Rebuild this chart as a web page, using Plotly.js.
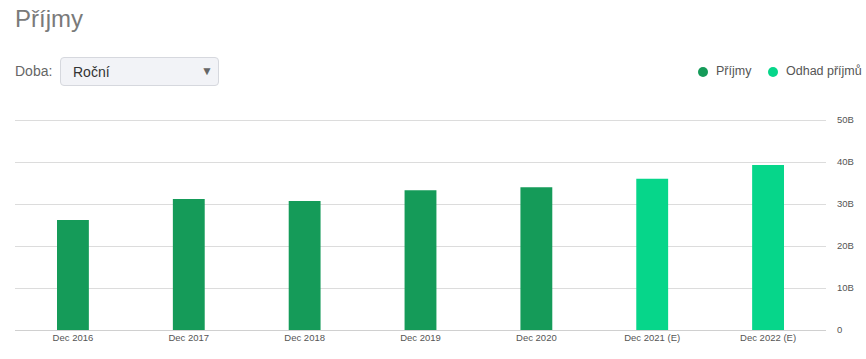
<!DOCTYPE html>
<html>
<head>
<meta charset="utf-8">
<script src="https://cdn.plot.ly/plotly-3.0.1.min.js"></script>
<style>
  html, body { margin: 0; padding: 0; background: #fff; }
  body { width: 866px; height: 359px; position: relative; overflow: hidden; font-family: "Liberation Sans", Arial, sans-serif; }
  #chart { position: absolute; left: 0; top: 0; width: 866px; height: 359px; }
  #title { position: absolute; left: 15px; top: 5px; font-size: 24px; color: #7a7a7a; }
  #doba { position: absolute; left: 15px; top: 63px; font-size: 14px; color: #666; }
  #sel { position: absolute; left: 60px; top: 57px; width: 159px; height: 29px; box-sizing: border-box;
         border: 1px solid #d6d8de; border-radius: 4px; background: #f2f3f7; }
  #sel .t { position: absolute; left: 12px; top: 6px; font-size: 14px; color: #333; }
  #sel .a { position: absolute; right: 5px; top: 6px; font-size: 12px; color: #666; }
  .lg { position: absolute; top: 64px; font-size: 12.5px; color: #555; white-space: nowrap; }
  .lg .d { position: absolute; left: 0; top: 3px; width: 10px; height: 10px; border-radius: 50%; }
  .lg .s { position: absolute; left: 18px; top: 0; }
</style>
</head>
<body>
<div id="chart"></div>
<div id="title">Příjmy</div>
<div id="doba">Doba:</div>
<div id="sel"><span class="t">Roční</span><span class="a">▼</span></div>
<div id="legend"></div>
<script>
const categories = ["Dec 2016", "Dec 2017", "Dec 2018", "Dec 2019", "Dec 2020", "Dec 2021 (E)", "Dec 2022 (E)"];
const revenue = [26.2, 31.2, 30.7, 33.3, 34.0, null, null];       // billions
const revenueEstimate = [null, null, null, null, null, 36.0, 39.3]; // billions
const yTickVals = [0, 10, 20, 30, 40, 50];
const yTickText = ["0", "10B", "20B", "30B", "40B", "50B"];
const seriesNames = ["Příjmy", "Odhad příjmů"];

const darkGreen = "#159b59";
const lightGreen = "#06d68a";
const seriesColors = [darkGreen, lightGreen];

// HTML legend with round markers
const legendLeft = [698, 768];
const lg = document.getElementById("legend");
seriesNames.forEach((n, i) => {
  const el = document.createElement("div");
  el.className = "lg";
  el.style.left = legendLeft[i] + "px";
  el.innerHTML = '<span class="d" style="background:' + seriesColors[i] + '"></span><span class="s">' + n + '</span>';
  lg.appendChild(el);
});

const data = [
  { type: "bar", x: categories, y: revenue, width: 0.275, marker: { color: darkGreen },
    name: seriesNames[0], showlegend: false, hoverinfo: "x+y" },
  { type: "bar", x: categories, y: revenueEstimate, width: 0.275, marker: { color: lightGreen },
    name: seriesNames[1], showlegend: false, hoverinfo: "x+y" }
];

const layout = {
  width: 866, height: 359,
  margin: { l: 15, r: 40, t: 118, b: 29, pad: 0 },
  paper_bgcolor: "#fff", plot_bgcolor: "#fff",
  barmode: "overlay",
  showlegend: false,
  font: { family: "Liberation Sans, Arial, sans-serif", color: "#555" },
  xaxis: {
    type: "category", range: [-0.5, 6.5], showgrid: false, zeroline: false,
    showline: false, ticks: "", tickfont: { size: 9.5, color: "#555" }, fixedrange: true
  },
  yaxis: {
    side: "right", range: [0, 50.5], tickvals: yTickVals, ticktext: yTickText,
    showgrid: true, gridcolor: "#dcdcdc", gridwidth: 1, zeroline: true, zerolinecolor: "#d0d0d0",
    showline: false, ticks: "", tickfont: { size: 9.5, color: "#555" }, ticklabelstandoff: 10, fixedrange: true
  }
};

Plotly.newPlot("chart", data, layout, { displayModeBar: false, staticPlot: true });
</script>
</body>
</html>
